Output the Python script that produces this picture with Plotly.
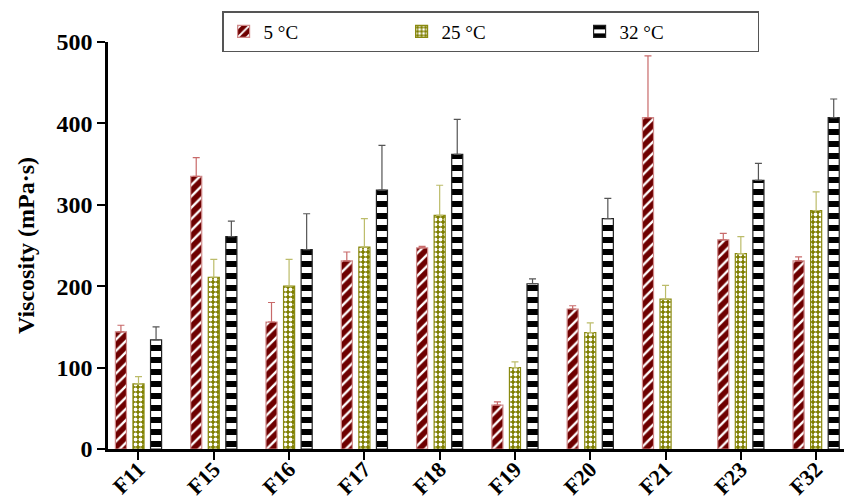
import plotly.graph_objects as go

# Formulations on the x axis
formulations = ["F11", "F15", "F16", "F17", "F18", "F19", "F20", "F21", "F23", "F32"]

# Mean viscosity (mPa·s) at each storage temperature (None = not measured)
visc_5c = [144, 335, 156, 231, 247, 54, 172, 407, 257, 231]
visc_25c = [80, 211, 200, 248, 287, 100, 143, 184, 240, 293]
visc_32c = [134, 261, 245, 318, 362, 203, 283, None, 330, 407]

# Upper error (SD) for each bar
err_5c = [8, 23, 24, 11, 2, 4, 4, 76, 8, 5]
err_25c = [9, 22, 33, 35, 37, 7, 12, 17, 21, 23]
err_32c = [16, 19, 44, 55, 43, 6, 25, 0, 21, 23]

serif = "Times New Roman, Liberation Serif, serif"

series = [
    dict(name="5 °C", y=visc_5c, err=err_5c, bg="#6e0000", fg="white",
         shape="/", size=8, solidity=0.3, line="#d08a8a", ecolor="#c86a6a"),
    dict(name="25 °C", y=visc_25c, err=err_25c, bg="#7f7f00", fg="white",
         shape=".", size=5, solidity=0.45, line="#8a8a10", ecolor="#bcbc6a"),
    dict(name="32 °C", y=visc_32c, err=err_32c, bg="white", fg="black",
         shape="-", size=12, solidity=0.5, line="#222222", ecolor="#555555"),
]

fig = go.Figure()
for s in series:
    fig.add_trace(go.Bar(
        name=s["name"],
        x=formulations,
        y=s["y"],
        marker=dict(
            color=s["bg"],
            line=dict(color=s["line"], width=1.2),
            pattern=dict(shape=s["shape"], fgcolor=s["fg"], bgcolor=s["bg"],
                         size=s["size"], solidity=s["solidity"], fillmode="replace"),
        ),
        error_y=dict(type="data", symmetric=False, array=s["err"],
                     arrayminus=[0] * len(s["err"]), color=s["ecolor"],
                     thickness=1.2, width=3.5),
    ))

fig.update_layout(
    width=844, height=502,
    margin=dict(l=108, r=0, t=42, b=53, autoexpand=False),
    paper_bgcolor="white", plot_bgcolor="white",
    barmode="group", bargap=0.30, bargroupgap=0.37,
    font=dict(family=serif, color="black"),
    showlegend=True,
    legend=dict(
        orientation="h",
        x=0.155, xanchor="left",
        yref="container", y=0.978, yanchor="top",
        entrywidth=133, entrywidthmode="pixels",
        bgcolor="white", bordercolor="#555555", borderwidth=1.5,
        font=dict(family=serif, size=19, color="black"),
        itemwidth=30,
    ),
)

fig.update_xaxes(
    range=[-0.405, 9.37],
    showline=True, linecolor="black", linewidth=2.5,
    ticks="outside", ticklen=8, tickwidth=2, tickcolor="black",
    tickangle=-45, ticklabelstandoff=-12,
    tickfont=dict(family=serif, size=22, color="black", weight="bold"),
    showgrid=False, zeroline=False,
)
fig.update_yaxes(
    range=[0, 500], tickvals=[0, 100, 200, 300, 400, 500],
    showline=True, linecolor="black", linewidth=2.5,
    ticks="outside", ticklen=8, tickwidth=2, tickcolor="black",
    tickfont=dict(family=serif, size=24, color="black", weight="bold"),
    title=dict(text="Viscosity (mPa·s)",
               font=dict(family=serif, size=24, color="black", weight="bold"),
               standoff=16),
    showgrid=False, zeroline=False,
)

fig.write_html("out.html")
